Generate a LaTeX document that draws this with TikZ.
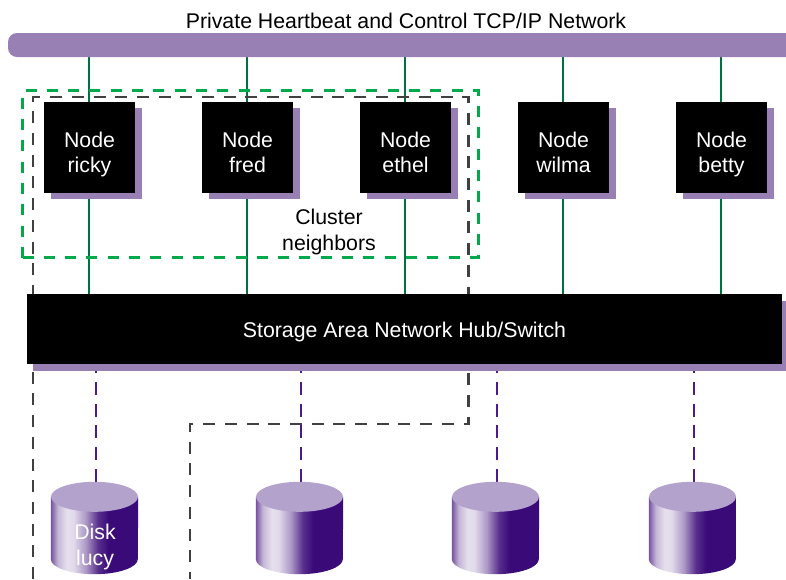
\documentclass[tikz,border=0pt]{standalone}
\usepackage{fontspec}
\setmainfont{Liberation Sans}
\usetikzlibrary{backgrounds,shadows}
\definecolor{barpurple}{HTML}{9880B4}
\definecolor{disktop}{HTML}{B3A2CB}
\definecolor{diskdark}{HTML}{3A0A78}
\definecolor{fibre}{HTML}{4B1A8C}
\definecolor{netgreen}{HTML}{00703F}
\definecolor{groupgreen}{HTML}{00AA4B}
\definecolor{fencegray}{HTML}{404040}
\pgfdeclarehorizontalshading{diskshade}{100bp}{color(0bp)=(diskdark!70!white); color(25bp)=(diskdark!70!white); color(29bp)=(diskdark!30!white); color(34bp)=(diskdark!13!white); color(38bp)=(diskdark!15!white); color(45bp)=(diskdark!42!white); color(52bp)=(diskdark!85!white); color(58bp)=(diskdark); color(100bp)=(diskdark)}
\begin{document}
\begin{tikzpicture}[x=1pt, y=-1pt, node distance=158pt, font=\fontsize{21.3}{25.5}\selectfont,
  hostbox/.style = {fill=black, minimum width=91pt, minimum height=91pt, inner sep=0pt,
    copy shadow={fill=barpurple, draw=none, opacity=1, shadow xshift=7pt, shadow yshift=-6pt}},
  hostlabel/.style = {text=white, align=center, inner sep=0pt},
  diskcan/.style = {minimum width=87pt, minimum height=92pt, inner sep=0pt},
  netline/.style = {draw=netgreen, line width=1.5pt},
  fibreline/.style = {draw=fibre, line width=2.2pt, dash pattern=on 13pt off 8.7pt},
  fence/.style = {draw=fencegray, line width=2.2pt, dash pattern=on 12pt off 9.7pt}]
\useasboundingbox (0,0) rectangle (786,579);
\node (title) at (406,21) {Private Heartbeat and Control TCP/IP Network};
\node[fill=barpurple, minimum height=24pt, minimum width=800pt, rounded corners=9pt, inner sep=0pt] (bar) at (408,45) {};
\node[hostbox] (ricky) at (89.5,147.5) {};
\node[hostbox] (fred) [right of=ricky] {};
\node[hostbox] (ethel) [right of=fred] {};
\node[hostbox] (wilma) [right of=ethel] {};
\node[hostbox] (betty) [right of=wilma] {};
\foreach \n in {ricky,fred,ethel,wilma,betty}
  \node[hostlabel] (\n text) at ([yshift=-8.5pt]\n) {Node\\\n\strut};
\node[fill=black, minimum width=755pt, minimum height=70pt, inner sep=0pt,
  copy shadow={fill=barpurple, draw=none, opacity=1, shadow xshift=6pt, shadow yshift=-7pt}] (san) at (404.5,329) {};
\node[text=white] (santext) at (404.5,332) {Storage Area Network Hub/Switch};
\node[diskcan] (lucy) at (94.5,528) {};
\node[diskcan] (disktwo) at (299.5,528) {};
\node[diskcan] (diskthree) at (495.5,528) {};
\node[diskcan] (diskfour) at (692.5,528) {};
\foreach \d in {lucy,disktwo,diskthree,diskfour} {
  \shade[shading=diskshade] ([yshift=-15pt]\d.north west) -- ([yshift=15pt]\d.south west)
    arc[start angle=180, end angle=360, x radius=43.5pt, y radius=15pt] -- ([yshift=-15pt]\d.north east) -- cycle;
  \fill[disktop] ([yshift=-15pt]\d.north) ellipse (43.5 and 15);
}
\node[text=white, align=center] (lucytext) at (95,547) {Disk\\lucy};
\node[align=center] (clustertext) at (329,232) {Cluster\\neighbors};
\node[draw=groupgreen, line width=2.6pt, dash pattern=on 11pt off 10.3pt, minimum width=456pt, minimum height=167pt, inner sep=0pt] (neighbors) at (250.5,174) {};
\coordinate (fencestart) at (32.7,579);
\coordinate (fencea) at (32.7,97.3);
\coordinate (fenceb) at (468.5,97.3);
\coordinate (fencec) at (468.5,423.7);
\coordinate (fenced) at (189.7,423.7);
\coordinate (fenceend) at (189.7,579);
\begin{pgfonlayer}{background}
\foreach \n in {ricky,fred,ethel,wilma,betty} {
  \draw[netline] ([xshift=-.7pt]\n |- bar.south) -- ([xshift=-.7pt]\n.north);
  \draw[netline] ([xshift=-.7pt]\n.south) -- ([xshift=-.7pt]\n |- san.north);
}
\foreach \d in {lucy,disktwo,diskthree,diskfour}
  \draw[fibreline] ([xshift=1.3pt]\d.north) -- ([xshift=1.3pt]\d.north |- san.south);
\draw[fence] (fencestart) -- (fencea) -- (fenceb) -- (fencec) -- (fenced) -- (fenceend);
\end{pgfonlayer}
\end{tikzpicture}
\end{document}
